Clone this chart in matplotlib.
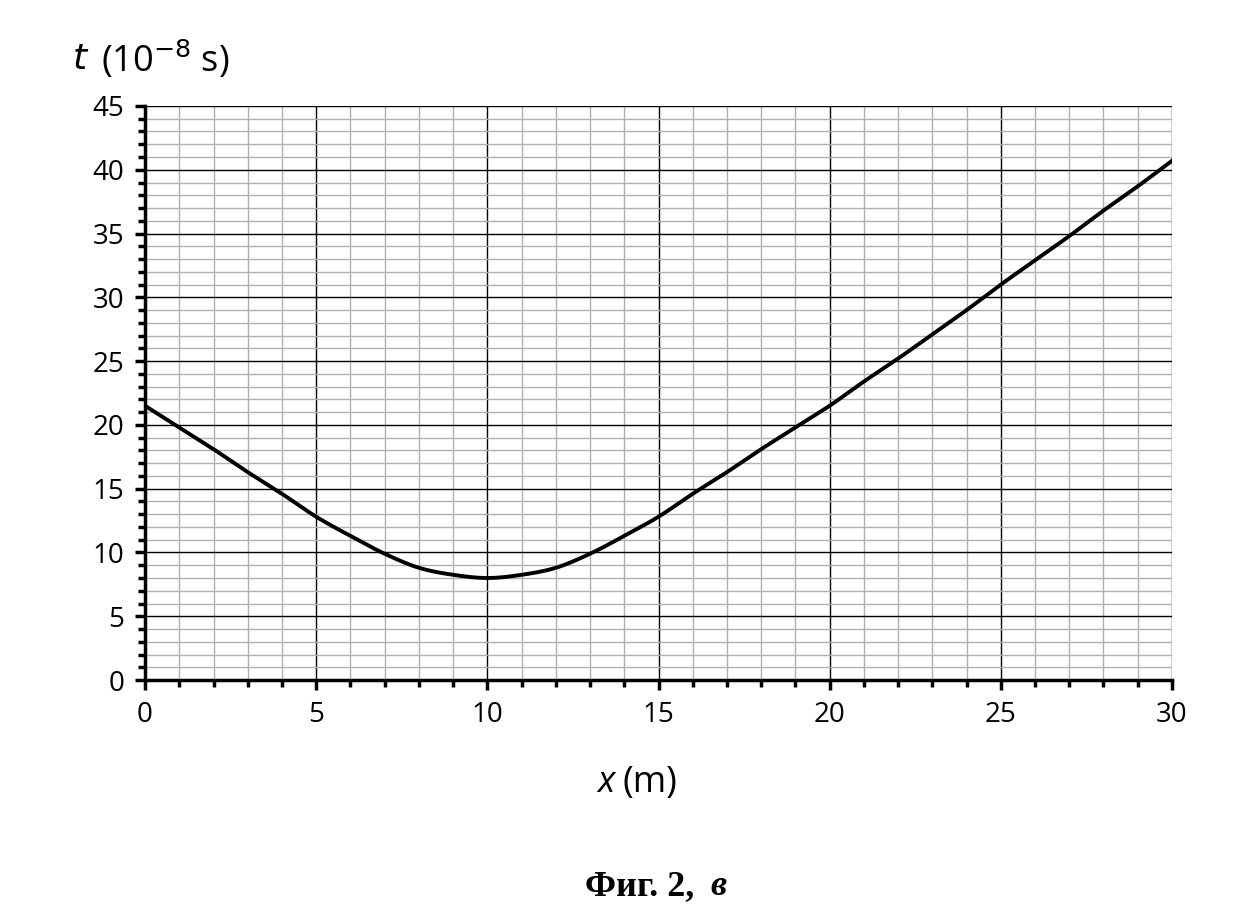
import matplotlib
matplotlib.use("Agg")
import matplotlib.pyplot as plt
import numpy as np
from matplotlib.ticker import MultipleLocator

x_vals = list(range(0, 31))
t_vals = [21.5, 19.8, 18.1, 16.3, 14.6, 12.8, 11.3, 9.9, 8.8, 8.25, 8.0, 8.25, 8.8, 9.9, 11.3,
          12.8, 14.6, 16.3, 18.1, 19.8, 21.5, 23.4, 25.2, 27.1, 29.0, 31.0, 32.9, 34.8, 36.8, 38.7, 40.7]
x_major = [0, 5, 10, 15, 20, 25, 30]
y_major = [0, 5, 10, 15, 20, 25, 30, 35, 40, 45]

# smooth through points (Catmull-Rom)
def catmull(xs, ys, n=20):
    xs = np.array(xs, float); ys = np.array(ys, float)
    px = np.concatenate([[2*xs[0]-xs[1]], xs, [2*xs[-1]-xs[-2]]])
    py = np.concatenate([[2*ys[0]-ys[1]], ys, [2*ys[-1]-ys[-2]]])
    ox, oy = [], []
    for i in range(1, len(px)-2):
        s = np.linspace(0, 1, n, endpoint=False)
        for P, out in ((px, ox), (py, oy)):
            p0, p1, p2, p3 = P[i-1], P[i], P[i+1], P[i+2]
            out.extend(0.5*((2*p1) + (-p0+p2)*s + (2*p0-5*p1+4*p2-p3)*s**2 + (-p0+3*p1-3*p2+p3)*s**3))
    ox.append(xs[-1]); oy.append(ys[-1])
    return ox, oy

fam = ['Open Sans', 'DejaVu Sans']
fig = plt.figure(figsize=(12.58, 9.19), dpi=100)
ax = fig.add_axes([0.1153, 0.260, 0.8163, 0.6247])
ax.set_xlim(0, 30); ax.set_ylim(0, 45)
ax.xaxis.set_minor_locator(MultipleLocator(1))
ax.yaxis.set_minor_locator(MultipleLocator(1))
ax.set_xticks(x_major); ax.set_yticks(y_major)
ax.grid(which='minor', color='#b0b0b0', lw=1.0)
ax.grid(which='major', color='black', lw=1.0)
ax.set_axisbelow(True)
sx, sy = catmull(x_vals, t_vals)
ax.plot(sx, sy, color='black', lw=2.8, zorder=3)
for s in ['top', 'right']:
    ax.spines[s].set_visible(False)
for s in ['left', 'bottom']:
    ax.spines[s].set_linewidth(2.5)
ax.tick_params(which='major', direction='out', length=7, width=2.5, labelsize=20, pad=8)
ax.tick_params(which='minor', direction='out', length=5, width=2.5)
for lab in ax.get_xticklabels() + ax.get_yticklabels():
    lab.set_family(fam)
fig.text(0.057, 0.935, r'$t$', fontsize=26, family=fam, style='italic', va='center')
fig.text(0.08, 0.935, '(10$^{-8}$ s)', fontsize=26, family=fam, va='center')
fig.text(0.475, 0.148, 'x', fontsize=26, family=fam, style='italic', va='center')
fig.text(0.495, 0.148, '(m)', fontsize=26, family=fam, va='center')
fig.text(0.465, 0.035, 'Фиг. 2, ', fontsize=26, family='Liberation Serif', weight='bold', va='center')
fig.text(0.565, 0.035, 'в', fontsize=26, family='Liberation Serif', weight='bold', style='italic', va='center')
fig.savefig('out.png')
